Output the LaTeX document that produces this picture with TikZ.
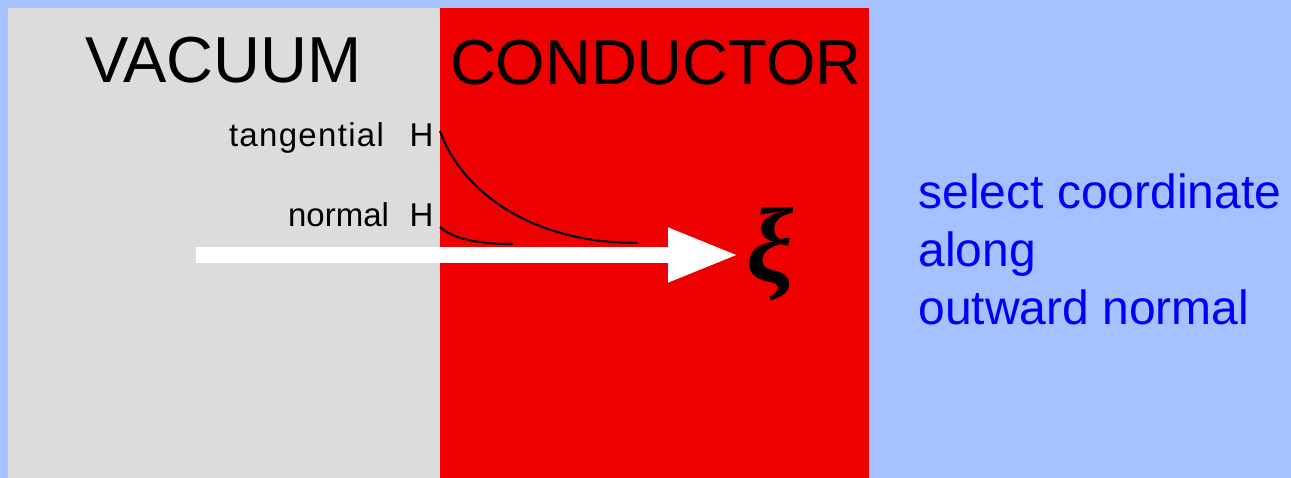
\documentclass[tikz,border=0pt]{standalone}
\usepackage{fontspec}
\setmainfont{Liberation Sans}
\newfontfamily\xifont{Liberation Serif}
\usetikzlibrary{arrows.meta}
\definecolor{bgblue}{RGB}{164,194,255}
\definecolor{vacgray}{RGB}{220,220,220}
\definecolor{condred}{RGB}{238,0,0}
\definecolor{noteblue}{RGB}{0,0,250}
\begin{document}
\begin{tikzpicture}[x=1pt,y=-1pt,
  lab/.style={inner sep=0pt,outer sep=0pt},
  big/.style={lab,anchor=base west,font=\fontsize{63.5}{70}\selectfont},
  small/.style={lab,anchor=base east,font=\fontsize{33}{38}\selectfont},
  note/.style={lab,anchor=base west,font=\fontsize{48}{58}\selectfont,text=noteblue},
  decay/.style={line width=2pt,black},
  bigarrow/.style={white,line width=16pt,-{Triangle[length=71pt,width=50pt]}}]
\useasboundingbox (0,0) rectangle (1291,478);
\fill[bgblue] (0,0) rectangle (1291,478);
\fill[vacgray] (8,8) rectangle (440,478);
\fill[condred] (440,8) rectangle (869,478);
% titles
\node[big,font=\fontsize{65}{70}\selectfont] (vac) at (85,83) {VACUUM};
\node[big] (cond) at (450,85) {CONDUCTOR};
% labels
\node[small] (tang) at (384,147) {\addfontfeature{LetterSpace=4}tangential};
\node[small] (tH) at (433.5,147) {H};
\node[small] (norm) at (389,227) {normal};
\node[small] (nH) at (433.5,227) {H};
% decay curves
\coordinate (t0) at (440,131);
\coordinate (t1) at (637,243);
\coordinate (n0) at (440,227);
\coordinate (n1) at (513,244);
\draw[decay] (t0) .. controls (460,188) and (527,243) .. (t1);
\draw[decay] (n0) .. controls (452,238) and (475,244) .. (n1);
% xi
\node[lab,anchor=base west,font=\xifont\bfseries\itshape\fontsize{106}{110}\selectfont] (xi) at (746,282) {ξ};
% arrow
\coordinate (a0) at (196,255);
\coordinate (a1) at (739,255);
\draw[bigarrow] (a0) -- (a1);
% note
\node[note] (n1t) at (918.5,209) {select coordinate};
\node[note] (n2t) at (918.5,267) {along};
\node[note] (n3t) at (918.5,325) {outward normal};
\end{tikzpicture}
\end{document}
